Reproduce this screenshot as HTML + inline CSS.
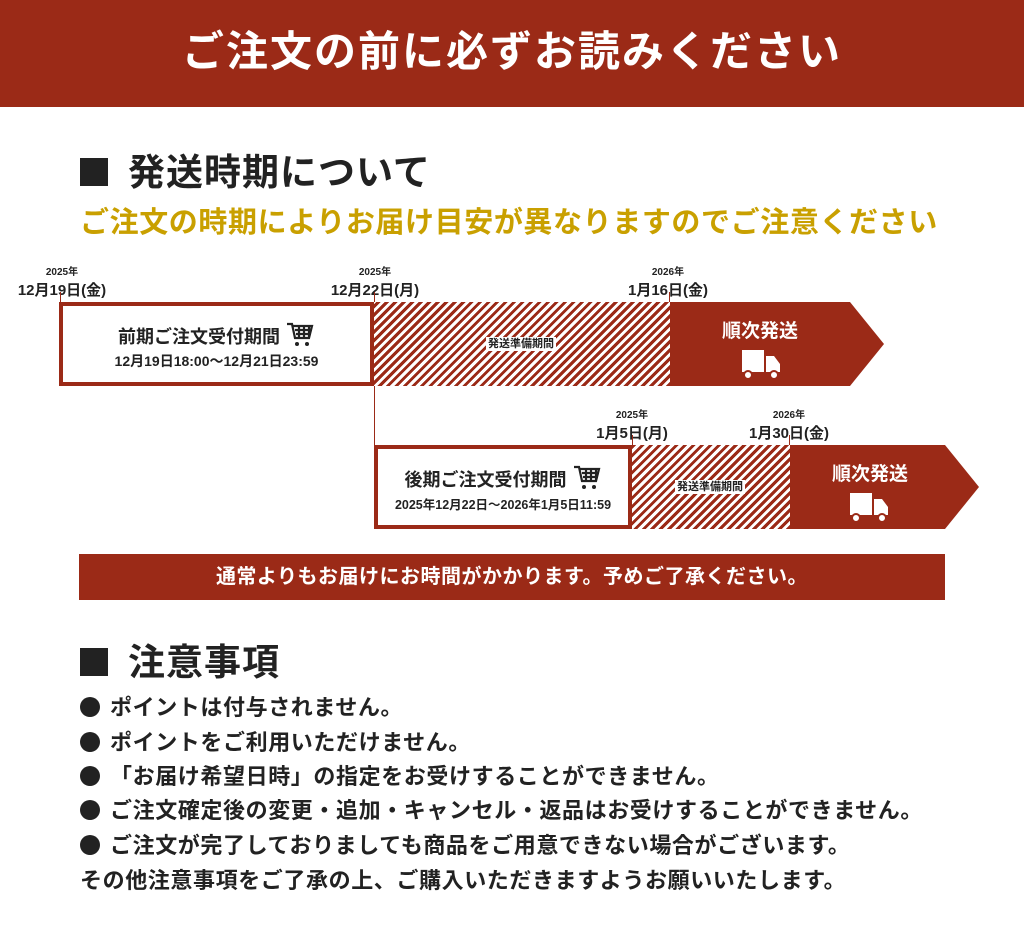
<!DOCTYPE html>
<html><head><meta charset="utf-8"><style>
*{margin:0;padding:0;box-sizing:border-box}
body{width:1024px;height:944px;background:#fff;font-family:"Liberation Sans","Noto Sans CJK JP",sans-serif;font-weight:bold;color:#222;position:relative;overflow:hidden}
.a{position:absolute;white-space:nowrap}
.hdr{left:0;top:0;width:1024px;height:107px;background:#9b2a17;color:#fff;font-size:42px;letter-spacing:2px;text-align:center;line-height:104px}
.h2{font-size:37px;left:80px;color:#222;letter-spacing:1px}
.sq{display:inline-block;width:28px;height:28px;background:#222;margin-right:20px;vertical-align:-1px}
.yl{left:80px;top:199px;font-size:29px;color:#c9a000;letter-spacing:0.6px}
.dt{text-align:center;width:140px;line-height:1}
.dt small{display:block;font-size:10px;margin-bottom:5px}
.dt span{font-size:15px}
.box{border:4px solid #9b2a17;background:#fff;text-align:center}
.stripe{background:repeating-linear-gradient(-45deg,#9b2a17 0 3px,#fff 3px 6px);font-size:11px;text-align:center;color:#222}
.stripe span{background:#fff;padding:1px 2px}
.vl{width:1px;background:#9b2a17}
.bn{left:79px;top:554px;width:866px;height:46px;background:#9b2a17;color:#fff;font-size:20px;letter-spacing:0.5px;text-align:center;line-height:46px}
.li{left:80px;font-size:22px;letter-spacing:0.6px}
.dot{display:inline-block;width:20px;height:20px;border-radius:50%;background:#222;margin-right:10px;vertical-align:-2px}
</style></head><body>
<div class="a hdr">ご注文の前に必ずお読みください</div>
<div class="a h2" style="top:142px"><span class="sq"></span>発送時期について</div>
<div class="a yl">ご注文の時期によりお届け目安が異なりますのでご注意ください</div>

<div class="a dt" style="left:-8px;top:268px"><small>2025年</small><span>12月19日(金)</span></div>
<div class="a dt" style="left:305px;top:268px"><small>2025年</small><span>12月22日(月)</span></div>
<div class="a dt" style="left:598px;top:268px"><small>2026年</small><span>1月16日(金)</span></div>
<div class="a vl" style="left:60px;top:292px;height:12px"></div>
<div class="a vl" style="left:374px;top:292px;height:153px"></div>
<div class="a vl" style="left:669px;top:292px;height:12px"></div>

<div class="a stripe" style="left:372px;top:302px;width:298px;height:84px;line-height:84px"><span>発送準備期間</span></div>
<div class="a box" style="left:59px;top:302px;width:315px;height:84px">
<div style="font-size:18px;margin-top:14px">前期ご注文受付期間 <svg width="30" height="28" viewBox="0 0 30 28" style="vertical-align:-5px"><path d="M2 4h5l3 14h14l3-12H8M10 10h17M11 14h15M14 6v12M19 6v12M24 6v12" fill="none" stroke="#222" stroke-width="2.2"/><circle cx="12" cy="24" r="2" fill="#222"/><circle cx="22" cy="24" r="2" fill="#222"/></svg></div>
<div style="font-size:14px;margin-top:2px">12月19日18:00〜12月21日23:59</div></div>
<svg class="a" style="left:670px;top:302px" width="215" height="84"><polygon points="0,0 180,0 214,42 180,84 0,84" fill="#9b2a17"/>
<rect x="72" y="48" width="22" height="22" fill="#fff"/><path d="M96 54h8l6 8v8h-14z" fill="#fff"/><circle cx="78" cy="73" r="4" fill="#fff" stroke="#9b2a17" stroke-width="2"/><circle cx="104" cy="73" r="4" fill="#fff" stroke="#9b2a17" stroke-width="2"/></svg>
<div class="a" style="left:670px;top:316px;width:180px;text-align:center;color:#fff;font-size:19px">順次発送</div>

<div class="a dt" style="left:562px;top:411px"><small>2025年</small><span>1月5日(月)</span></div>
<div class="a dt" style="left:719px;top:411px"><small>2026年</small><span>1月30日(金)</span></div>
<div class="a vl" style="left:632px;top:435px;height:12px"></div>
<div class="a vl" style="left:789px;top:435px;height:12px"></div>
<div class="a stripe" style="left:630px;top:445px;width:160px;height:84px;line-height:84px"><span>発送準備期間</span></div>
<div class="a box" style="left:374px;top:445px;width:258px;height:84px">
<div style="font-size:18px;margin-top:14px">後期ご注文受付期間 <svg width="30" height="28" viewBox="0 0 30 28" style="vertical-align:-5px"><path d="M2 4h5l3 14h14l3-12H8M10 10h17M11 14h15M14 6v12M19 6v12M24 6v12" fill="none" stroke="#222" stroke-width="2.2"/><circle cx="12" cy="24" r="2" fill="#222"/><circle cx="22" cy="24" r="2" fill="#222"/></svg></div>
<div style="font-size:12.5px;margin-top:2px">2025年12月22日〜2026年1月5日11:59</div></div>
<svg class="a" style="left:790px;top:445px" width="190" height="84"><polygon points="0,0 155,0 189,42 155,84 0,84" fill="#9b2a17"/>
<rect x="60" y="48" width="22" height="22" fill="#fff"/><path d="M84 54h8l6 8v8h-14z" fill="#fff"/><circle cx="66" cy="73" r="4" fill="#fff" stroke="#9b2a17" stroke-width="2"/><circle cx="92" cy="73" r="4" fill="#fff" stroke="#9b2a17" stroke-width="2"/></svg>
<div class="a" style="left:790px;top:459px;width:160px;text-align:center;color:#fff;font-size:19px">順次発送</div>

<div class="a bn">通常よりもお届けにお時間がかかります。予めご了承ください。</div>
<div class="a h2" style="top:632px"><span class="sq"></span>注意事項</div>
<div class="a li" style="top:690px"><span class="dot"></span>ポイントは付与されません。</div>
<div class="a li" style="top:725px"><span class="dot"></span>ポイントをご利用いただけません。</div>
<div class="a li" style="top:759px"><span class="dot"></span>「お届け希望日時」の指定をお受けすることができません。</div>
<div class="a li" style="top:793px"><span class="dot"></span>ご注文確定後の変更・追加・キャンセル・返品はお受けすることができません。</div>
<div class="a li" style="top:828px"><span class="dot"></span>ご注文が完了しておりましても商品をご用意できない場合がございます。</div>
<div class="a li" style="top:863px">その他注意事項をご了承の上、ご購入いただきますようお願いいたします。</div>
</body></html>
